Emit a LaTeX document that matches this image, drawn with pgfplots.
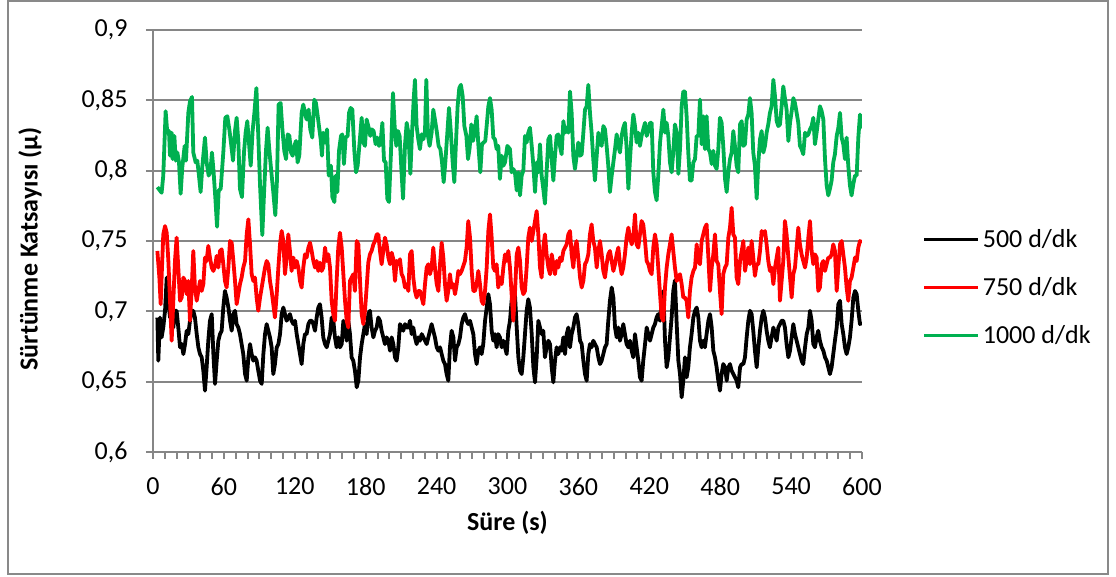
\documentclass[border=0pt]{standalone}
\usepackage{fontspec}
\setmainfont{Carlito}
\usepackage{pgfplots}
\pgfplotsset{compat=1.18}
\usepackage{pgfplotstable}
\definecolor{exgreen}{RGB}{0,176,80}
\definecolor{axgray}{RGB}{134,134,134}
\definecolor{framegray}{RGB}{137,137,137}

\pgfplotstableread{
t v
3.7 0.6956
4.5 0.6649
5.9 0.6956
7.3 0.6815
8.7 0.6885
10.2 0.7004
11.6 0.7240
13.0 0.7075
14.4 0.6956
15.8 0.7004
17.2 0.6885
18.6 0.7004
20.0 0.7004
21.4 0.6885
22.9 0.6744
24.3 0.6767
25.7 0.6696
27.1 0.6767
28.5 0.6862
29.9 0.6838
31.3 0.6933
32.7 0.7004
34.1 0.7004
35.5 0.6956
37.0 0.6838
38.4 0.6744
39.8 0.6696
41.2 0.6673
42.6 0.6578
44.0 0.6436
45.4 0.6602
46.8 0.6791
48.2 0.6933
49.7 0.6980
51.1 0.6696
52.5 0.6484
53.9 0.6649
55.3 0.6791
56.7 0.6838
58.1 0.6862
59.5 0.7027
60.9 0.7145
62.3 0.7098
63.8 0.7027
65.2 0.6933
66.6 0.6862
68.0 0.6980
69.4 0.7004
70.8 0.6909
72.2 0.6885
73.6 0.6838
75.0 0.6767
76.4 0.6696
77.9 0.6554
79.3 0.6507
80.7 0.6673
82.1 0.6767
83.5 0.6696
84.9 0.6649
86.3 0.6673
87.7 0.6649
89.1 0.6578
90.6 0.6507
92.0 0.6484
93.4 0.6696
94.8 0.6838
96.2 0.6909
97.6 0.6862
99.0 0.6815
100.4 0.6744
101.8 0.6554
103.2 0.6625
104.7 0.6744
106.1 0.6767
107.5 0.6838
108.9 0.6980
110.3 0.7027
111.7 0.6980
113.1 0.6933
114.5 0.6956
115.9 0.6980
117.3 0.6933
118.8 0.6909
120.2 0.6933
121.6 0.6838
123.0 0.6767
124.4 0.6696
125.8 0.6625
127.2 0.6767
128.6 0.6838
130.0 0.6838
131.5 0.6909
132.9 0.6933
134.3 0.6933
135.7 0.6909
137.1 0.6862
138.5 0.6956
139.9 0.7027
141.3 0.7051
142.7 0.6956
144.1 0.6815
145.6 0.6767
147.0 0.6744
148.4 0.6791
149.8 0.6838
151.2 0.6956
152.6 0.6933
154.0 0.6815
155.4 0.6744
156.8 0.6815
158.2 0.6744
159.7 0.6767
161.1 0.6933
162.5 0.6885
163.9 0.6791
165.3 0.6933
166.7 0.6838
168.1 0.6673
169.5 0.6649
170.9 0.6578
172.4 0.6460
173.8 0.6507
175.2 0.6673
176.6 0.6767
178.0 0.6838
179.4 0.6909
180.8 0.6838
182.2 0.6980
183.6 0.7004
185.0 0.6885
186.5 0.6815
187.9 0.6862
189.3 0.6885
190.7 0.6956
192.1 0.6933
193.5 0.6862
194.9 0.6815
196.3 0.6767
197.7 0.6815
199.2 0.6791
200.6 0.6720
202.0 0.6815
203.4 0.6767
204.8 0.6673
206.2 0.6649
207.6 0.6744
209.0 0.6909
210.4 0.6885
211.8 0.6862
213.3 0.6909
214.7 0.6885
216.1 0.6885
217.5 0.6933
218.9 0.6838
220.3 0.6885
221.7 0.6815
223.1 0.6767
224.5 0.6815
225.9 0.6791
227.4 0.6838
228.8 0.6815
230.2 0.6791
231.6 0.6767
233.0 0.6815
234.4 0.6862
235.8 0.6909
237.2 0.6862
238.6 0.6815
240.1 0.6744
241.5 0.6720
242.9 0.6744
244.3 0.6696
245.7 0.6649
247.1 0.6625
248.5 0.6554
249.9 0.6507
251.3 0.6744
252.7 0.6862
254.2 0.6815
255.6 0.6649
257.0 0.6744
258.4 0.6767
259.8 0.6815
261.2 0.6909
262.6 0.6956
264.0 0.6980
265.4 0.6933
266.8 0.6909
268.3 0.6933
269.7 0.6885
271.1 0.6838
272.5 0.6696
273.9 0.6625
275.3 0.6720
276.7 0.6744
278.1 0.6696
279.5 0.6767
281.0 0.6933
282.4 0.7027
283.8 0.7122
285.2 0.7051
286.6 0.6862
288.0 0.6791
289.4 0.6838
290.8 0.6744
292.2 0.6838
293.6 0.6815
295.1 0.6744
296.5 0.6791
297.9 0.6744
299.3 0.6696
300.7 0.6862
302.1 0.6933
303.5 0.7075
304.9 0.7169
306.3 0.7122
307.8 0.6885
309.2 0.6673
310.6 0.6578
312.0 0.6554
313.4 0.6673
314.8 0.6838
316.2 0.7004
317.6 0.7086
319.0 0.7027
320.5 0.6838
321.9 0.6602
323.3 0.6495
324.7 0.6673
326.1 0.6933
327.5 0.6885
328.9 0.6838
330.3 0.6862
331.7 0.6673
333.1 0.6744
334.6 0.6791
336.0 0.6767
337.4 0.6602
338.8 0.6495
340.2 0.6649
341.6 0.6744
343.0 0.6696
344.4 0.6744
345.8 0.6720
347.3 0.6815
348.7 0.6696
350.1 0.6838
351.5 0.6885
352.9 0.6744
354.3 0.6838
355.7 0.6885
357.1 0.6956
358.5 0.6980
359.9 0.6909
361.4 0.6791
362.8 0.6767
364.2 0.6649
365.6 0.6554
367.0 0.6507
368.4 0.6696
369.8 0.6767
371.2 0.6744
372.6 0.6791
374.0 0.6767
375.5 0.6744
376.9 0.6673
378.3 0.6625
379.7 0.6649
381.1 0.6696
382.5 0.6744
383.9 0.6767
385.3 0.6933
386.7 0.7075
388.2 0.7169
389.6 0.7098
391.0 0.6885
392.4 0.6815
393.8 0.6885
395.2 0.6791
396.6 0.6838
398.0 0.6909
399.4 0.6838
400.8 0.6767
402.3 0.6744
403.7 0.6791
405.1 0.6720
406.5 0.6673
407.9 0.6838
409.3 0.6744
410.7 0.6649
412.1 0.6531
413.5 0.6507
414.9 0.6649
416.4 0.6767
417.8 0.6885
419.2 0.6838
420.6 0.6791
422.0 0.6838
423.4 0.6885
424.8 0.6909
426.2 0.6956
427.6 0.6980
429.1 0.6933
430.5 0.7075
431.9 0.7145
433.3 0.6791
434.7 0.6602
436.1 0.6673
437.5 0.6815
438.9 0.6956
440.3 0.7145
441.7 0.7220
443.2 0.6909
444.6 0.6649
446.0 0.6554
447.4 0.6389
448.8 0.6507
450.2 0.6673
451.6 0.6531
453.0 0.6602
454.4 0.6744
455.8 0.6838
457.3 0.6956
458.7 0.7004
460.1 0.7027
461.5 0.6956
462.9 0.6791
464.3 0.6744
465.7 0.6791
467.1 0.6744
468.5 0.6838
470.0 0.6933
471.4 0.6980
472.8 0.6885
474.2 0.6720
475.6 0.6673
477.0 0.6602
478.4 0.6507
479.8 0.6436
481.2 0.6554
482.6 0.6625
484.1 0.6602
485.5 0.6507
486.9 0.6602
488.3 0.6625
489.7 0.6578
491.1 0.6554
492.5 0.6531
493.9 0.6507
495.3 0.6460
496.8 0.6602
498.2 0.6625
499.6 0.6625
501.0 0.6673
502.4 0.6815
503.8 0.6933
505.2 0.7004
506.6 0.6980
508.0 0.6862
509.4 0.6720
510.9 0.6602
512.3 0.6744
513.7 0.6862
515.1 0.6956
516.5 0.7004
517.9 0.6956
519.3 0.6862
520.7 0.6791
522.1 0.6744
523.5 0.6815
525.0 0.6885
526.4 0.6838
527.8 0.6791
529.2 0.6885
530.6 0.6909
532.0 0.6933
533.4 0.6933
534.8 0.6885
536.2 0.6767
537.7 0.6673
539.1 0.6720
540.5 0.6815
541.9 0.6909
543.3 0.6838
544.7 0.6791
546.1 0.6744
547.5 0.6696
548.9 0.6649
550.3 0.6625
551.8 0.6744
553.2 0.6838
554.6 0.6885
556.0 0.7004
557.4 0.6933
558.8 0.6767
560.2 0.6744
561.6 0.6815
563.0 0.6862
564.4 0.6791
565.9 0.6744
567.3 0.6720
568.7 0.6673
570.1 0.6649
571.5 0.6602
572.9 0.6554
574.3 0.6602
575.7 0.6696
577.1 0.6791
578.6 0.6885
580.0 0.7051
581.4 0.7075
582.8 0.6909
584.2 0.6838
585.6 0.6744
587.0 0.6696
588.4 0.6744
589.8 0.6815
591.2 0.6933
592.7 0.7098
594.1 0.7145
595.5 0.7122
596.9 0.7004
598.3 0.6909
600.0 0.6921
}\blackdata

\pgfplotstableread{
t v
3.7 0.7429
5.4 0.7240
6.5 0.7051
7.6 0.7311
8.7 0.7547
10.2 0.7606
11.6 0.7559
13.0 0.7358
14.4 0.7075
15.8 0.6791
17.2 0.7075
18.6 0.7358
20.0 0.7524
21.4 0.7311
22.9 0.7075
24.3 0.7098
25.7 0.7240
27.1 0.7216
28.5 0.7122
29.9 0.7216
31.3 0.6933
32.7 0.7145
34.1 0.7429
35.5 0.7169
37.0 0.7075
38.4 0.7145
39.8 0.7216
41.2 0.7145
42.6 0.7193
44.0 0.7382
45.4 0.7358
46.8 0.7465
48.2 0.7382
49.7 0.7311
51.1 0.7287
52.5 0.7323
53.9 0.7394
55.3 0.7311
56.7 0.7429
58.1 0.7441
59.5 0.7335
60.9 0.7216
62.3 0.7169
63.8 0.7311
65.2 0.7500
66.6 0.7488
68.0 0.7358
69.4 0.7216
70.8 0.7051
72.2 0.7122
73.6 0.7193
75.0 0.7240
76.4 0.7311
77.9 0.7358
79.3 0.7547
80.7 0.7654
82.1 0.7476
83.5 0.7264
84.9 0.7216
86.3 0.7240
87.7 0.7098
89.1 0.7004
90.6 0.7098
92.0 0.7169
93.4 0.7240
94.8 0.7311
96.2 0.7358
97.6 0.7335
99.0 0.7216
100.4 0.7145
101.8 0.7051
103.2 0.6956
104.7 0.7122
106.1 0.7311
107.5 0.7476
108.9 0.7571
110.3 0.7500
111.7 0.7264
113.1 0.7382
114.5 0.7547
115.9 0.7429
117.3 0.7287
118.8 0.7382
120.2 0.7311
121.6 0.7358
123.0 0.7311
124.4 0.7216
125.8 0.7169
127.2 0.7311
128.6 0.7405
130.0 0.7382
131.5 0.7453
132.9 0.7488
134.3 0.7429
135.7 0.7358
137.1 0.7311
138.5 0.7358
139.9 0.7287
141.3 0.7346
142.7 0.7287
144.1 0.7311
145.6 0.7453
147.0 0.7358
148.4 0.7405
149.8 0.7311
151.2 0.7075
152.6 0.6980
154.0 0.6933
155.4 0.7216
156.8 0.7453
158.2 0.7559
159.7 0.7453
161.1 0.7264
162.5 0.7075
163.9 0.6933
165.3 0.6885
166.7 0.7216
168.1 0.7240
169.5 0.7264
170.9 0.7145
172.4 0.7500
173.8 0.7476
175.2 0.7216
176.6 0.6980
178.0 0.6909
179.4 0.7004
180.8 0.7169
182.2 0.7346
183.6 0.7405
185.0 0.7429
186.5 0.7476
187.9 0.7500
189.3 0.7547
190.7 0.7547
192.1 0.7429
193.5 0.7335
194.9 0.7429
196.3 0.7524
197.7 0.7476
199.2 0.7382
200.6 0.7335
202.0 0.7417
203.4 0.7370
204.8 0.7216
206.2 0.7358
207.6 0.7335
209.0 0.7370
210.4 0.7264
211.8 0.7240
213.3 0.7169
214.7 0.7193
216.1 0.7145
217.5 0.7405
218.9 0.7429
220.3 0.7240
221.7 0.7145
223.1 0.7098
224.5 0.7145
225.9 0.7145
227.4 0.7098
228.8 0.7051
230.2 0.7193
231.6 0.7311
233.0 0.7335
234.4 0.7264
235.8 0.7311
237.2 0.7453
238.6 0.7311
240.1 0.7193
241.5 0.7145
242.9 0.7335
244.3 0.7488
245.7 0.7382
247.1 0.7193
248.5 0.7075
249.9 0.7145
251.3 0.7264
252.7 0.7169
254.2 0.7193
255.6 0.7122
257.0 0.7193
258.4 0.7287
259.8 0.7264
261.2 0.7287
262.6 0.7323
264.0 0.7358
265.4 0.7453
266.8 0.7642
268.3 0.7524
269.7 0.7287
271.1 0.7145
272.5 0.7145
273.9 0.7193
275.3 0.7287
276.7 0.7193
278.1 0.7075
279.5 0.7051
281.0 0.7145
282.4 0.7311
283.8 0.7571
285.2 0.7689
286.6 0.7524
288.0 0.7311
289.4 0.7287
290.8 0.7335
292.2 0.7169
293.6 0.7240
295.1 0.7193
296.5 0.7311
297.9 0.7405
299.3 0.7358
300.7 0.7429
302.1 0.7311
303.5 0.7122
304.9 0.6933
306.3 0.7122
307.8 0.7405
309.2 0.7453
310.6 0.7358
312.0 0.7169
313.4 0.7122
314.8 0.7145
316.2 0.7311
317.6 0.7524
319.0 0.7595
320.5 0.7500
321.9 0.7571
323.3 0.7642
324.7 0.7713
326.1 0.7547
327.5 0.7311
328.9 0.7240
330.3 0.7453
331.7 0.7547
333.1 0.7405
334.6 0.7311
336.0 0.7264
337.4 0.7405
338.8 0.7335
340.2 0.7264
341.6 0.7358
343.0 0.7311
344.4 0.7382
345.8 0.7358
347.3 0.7429
348.7 0.7453
350.1 0.7476
351.5 0.7547
352.9 0.7571
354.3 0.7405
355.7 0.7311
357.1 0.7453
358.5 0.7500
359.9 0.7382
361.4 0.7240
362.8 0.7169
364.2 0.7216
365.6 0.7335
367.0 0.7358
368.4 0.7405
369.8 0.7547
371.2 0.7618
372.6 0.7500
374.0 0.7453
375.5 0.7311
376.9 0.7429
378.3 0.7500
379.7 0.7405
381.1 0.7287
382.5 0.7240
383.9 0.7335
385.3 0.7405
386.7 0.7429
388.2 0.7358
389.6 0.7287
391.0 0.7335
392.4 0.7405
393.8 0.7453
395.2 0.7335
396.6 0.7264
398.0 0.7311
399.4 0.7405
400.8 0.7524
402.3 0.7595
403.7 0.7524
405.1 0.7476
406.5 0.7524
407.9 0.7689
409.3 0.7476
410.7 0.7453
412.1 0.7547
413.5 0.7642
414.9 0.7618
416.4 0.7500
417.8 0.7358
419.2 0.7335
420.6 0.7287
422.0 0.7264
423.4 0.7453
424.8 0.7547
426.2 0.7476
427.6 0.7311
429.1 0.7122
430.5 0.6956
431.9 0.6933
433.3 0.7169
434.7 0.7311
436.1 0.7405
437.5 0.7476
438.9 0.7547
440.3 0.7429
441.7 0.7311
443.2 0.7216
444.6 0.7240
446.0 0.7264
447.4 0.7193
448.8 0.7098
450.2 0.7098
451.6 0.7075
453.0 0.6956
454.4 0.7145
455.8 0.7240
457.3 0.7287
458.7 0.7311
460.1 0.7476
461.5 0.7358
462.9 0.7335
464.3 0.7500
465.7 0.7547
467.1 0.7595
468.5 0.7618
470.0 0.7382
471.4 0.7145
472.8 0.7311
474.2 0.7405
475.6 0.7547
477.0 0.7358
478.4 0.7335
479.8 0.7145
481.2 0.6980
482.6 0.7264
484.1 0.7311
485.5 0.7335
486.9 0.7524
488.3 0.7595
489.7 0.7736
491.1 0.7547
492.5 0.7524
493.9 0.7240
495.3 0.7193
496.8 0.7358
498.2 0.7429
499.6 0.7500
501.0 0.7287
502.4 0.7358
503.8 0.7453
505.2 0.7335
506.6 0.7500
508.0 0.7382
509.4 0.7252
510.9 0.7335
512.3 0.7335
513.7 0.7429
515.1 0.7571
516.5 0.7547
517.9 0.7571
519.3 0.7476
520.7 0.7358
522.1 0.7287
523.5 0.7311
525.0 0.7193
526.4 0.7311
527.8 0.7382
529.2 0.7453
530.6 0.7075
532.0 0.7216
533.4 0.7358
534.8 0.7642
536.2 0.7547
537.7 0.7382
539.1 0.7240
540.5 0.7098
541.9 0.7264
543.3 0.7311
544.7 0.7453
546.1 0.7595
547.5 0.7476
548.9 0.7405
550.3 0.7358
551.8 0.7311
553.2 0.7382
554.6 0.7524
556.0 0.7642
557.4 0.7429
558.8 0.7335
560.2 0.7405
561.6 0.7382
563.0 0.7145
564.4 0.7169
565.9 0.7335
567.3 0.7358
568.7 0.7287
570.1 0.7335
571.5 0.7382
572.9 0.7382
574.3 0.7405
575.7 0.7476
577.1 0.7429
578.6 0.7145
580.0 0.7311
581.4 0.7476
582.8 0.7500
584.2 0.7405
585.6 0.7311
587.0 0.7169
588.4 0.7075
589.8 0.7216
591.2 0.7240
592.7 0.7311
594.1 0.7382
595.5 0.7358
596.9 0.7453
598.3 0.7500
600.0 0.7488
}\reddata

\pgfplotstableread{
t v
3.7 0.7883
7.3 0.7843
8.7 0.7965
10.7 0.8423
12.1 0.8270
13.5 0.8282
14.4 0.8106
15.8 0.8270
16.6 0.8082
18.1 0.8247
19.2 0.8071
20.6 0.8129
22.0 0.8059
23.4 0.7836
24.8 0.8024
26.8 0.8176
27.9 0.8071
29.9 0.8411
31.3 0.8493
33.0 0.8524
34.1 0.8129
36.1 0.8059
37.5 0.8071
38.9 0.7965
40.3 0.7848
41.8 0.8035
44.0 0.8235
45.4 0.8059
47.1 0.7965
48.5 0.7988
49.9 0.8129
51.3 0.7988
52.8 0.7801
54.2 0.7601
55.6 0.7859
57.3 0.7871
59.5 0.8129
61.2 0.8376
62.9 0.8387
64.6 0.8294
66.3 0.8176
67.7 0.8071
69.4 0.8282
70.8 0.8376
72.2 0.8211
73.6 0.7871
75.3 0.7812
77.0 0.8129
78.4 0.8270
79.8 0.8352
81.2 0.8200
82.7 0.8035
84.3 0.8282
85.8 0.8411
87.5 0.8587
88.9 0.8294
90.6 0.7895
92.5 0.7542
93.9 0.7824
95.6 0.8141
97.0 0.8305
98.4 0.8153
99.9 0.8012
101.8 0.7848
103.5 0.7683
104.9 0.7930
106.3 0.8470
108.0 0.8481
109.5 0.8294
111.1 0.8141
112.6 0.8082
114.0 0.8258
115.4 0.8247
116.8 0.8129
118.2 0.8106
119.6 0.8176
121.0 0.8211
122.4 0.8059
123.8 0.8106
125.8 0.8411
127.2 0.8470
128.6 0.8411
130.0 0.8364
131.7 0.8434
133.1 0.8294
134.8 0.8235
136.5 0.8505
137.9 0.8481
139.4 0.8387
140.8 0.8294
141.9 0.8223
143.0 0.8106
144.1 0.8270
145.8 0.8200
147.3 0.8294
148.7 0.7965
150.6 0.8035
151.8 0.7812
153.5 0.7777
154.6 0.7965
156.0 0.7848
157.4 0.8141
159.1 0.8247
160.2 0.8258
161.6 0.8047
163.0 0.8235
164.7 0.8247
165.9 0.8411
167.3 0.8446
168.7 0.8434
170.4 0.8141
171.8 0.7988
173.2 0.8035
174.6 0.8176
176.6 0.8376
178.0 0.8200
179.4 0.8176
180.8 0.8364
182.2 0.8317
183.9 0.8247
185.0 0.8294
186.7 0.8282
188.4 0.8188
189.8 0.8235
191.3 0.8176
192.7 0.8211
194.1 0.8340
195.5 0.8071
196.9 0.8059
198.3 0.7801
199.7 0.7777
201.4 0.8129
203.1 0.8552
204.5 0.8317
205.9 0.8176
207.3 0.8282
208.7 0.8247
210.2 0.8012
211.6 0.7801
213.3 0.8188
214.7 0.8340
216.1 0.8270
217.8 0.7977
219.2 0.8270
220.6 0.8505
221.7 0.8646
223.1 0.8317
224.5 0.8223
225.9 0.8153
227.4 0.8258
228.8 0.8223
230.2 0.8282
231.3 0.8646
232.7 0.8247
234.1 0.8176
235.8 0.8270
237.2 0.8434
238.6 0.8364
240.3 0.8270
241.7 0.8176
243.2 0.8153
244.6 0.8059
246.0 0.7918
247.4 0.8059
249.1 0.8270
250.5 0.8446
251.9 0.8294
253.6 0.8059
255.0 0.7918
256.4 0.8200
257.8 0.8458
259.2 0.8587
260.6 0.8610
262.1 0.8528
263.5 0.8317
265.2 0.8247
266.6 0.8082
268.0 0.8164
269.4 0.8329
270.8 0.8211
272.2 0.8270
273.9 0.8387
275.3 0.8188
277.0 0.7988
278.4 0.8188
279.8 0.8200
281.2 0.8211
282.6 0.8340
283.8 0.8458
285.2 0.8516
286.6 0.8434
288.0 0.8235
289.4 0.8223
290.8 0.8153
292.2 0.8176
293.6 0.7941
295.1 0.8106
296.5 0.8035
297.9 0.8059
299.9 0.8176
302.1 0.8153
303.5 0.7988
304.9 0.8012
306.3 0.7988
307.8 0.7859
309.2 0.7988
310.6 0.7824
312.0 0.7965
313.4 0.8000
314.8 0.8247
316.2 0.8200
317.6 0.8270
319.0 0.8305
320.5 0.8176
321.9 0.8035
323.3 0.7848
324.7 0.8059
326.1 0.7988
327.5 0.8188
328.9 0.7965
330.3 0.7871
331.7 0.7765
333.1 0.7988
334.6 0.8223
336.0 0.8247
337.4 0.8082
338.8 0.7930
340.2 0.8106
341.6 0.8247
343.0 0.8258
344.4 0.8176
345.8 0.8117
347.3 0.8352
348.7 0.8270
350.1 0.8305
351.5 0.8270
352.9 0.8563
354.3 0.8411
355.7 0.8106
357.1 0.8012
358.5 0.8106
359.9 0.8200
361.4 0.8106
362.8 0.8117
364.2 0.8270
365.6 0.8434
367.0 0.8458
368.4 0.8610
369.8 0.8411
371.2 0.8270
372.6 0.8082
374.0 0.7930
375.5 0.8106
376.9 0.8270
378.3 0.8211
379.7 0.8176
381.1 0.8317
382.5 0.8294
383.9 0.8176
385.3 0.8035
386.7 0.7848
388.2 0.7965
389.6 0.8059
391.0 0.8153
392.4 0.8258
393.8 0.8176
395.2 0.8129
396.6 0.8247
398.0 0.8305
399.4 0.8340
400.8 0.8164
402.3 0.7871
403.7 0.8082
405.1 0.8270
406.5 0.8399
407.9 0.8317
409.3 0.8200
410.7 0.8270
412.1 0.8176
413.5 0.8247
414.9 0.8294
416.4 0.8340
417.8 0.8247
419.2 0.8282
420.6 0.8340
422.0 0.8340
423.4 0.7988
424.8 0.7848
426.2 0.7789
427.6 0.7965
429.1 0.8200
430.5 0.8317
431.9 0.8434
433.3 0.8270
434.7 0.8340
436.1 0.8247
437.5 0.8059
438.9 0.7988
440.3 0.8129
441.7 0.8329
443.2 0.8270
444.6 0.7977
446.0 0.8153
447.4 0.8458
448.8 0.8563
450.2 0.8563
451.6 0.8387
453.0 0.8129
454.4 0.7930
455.8 0.7930
457.3 0.8059
458.7 0.8082
460.1 0.8247
461.5 0.8247
462.9 0.8505
464.3 0.8188
465.7 0.8387
467.1 0.8153
468.5 0.8387
470.0 0.8153
471.4 0.8129
472.8 0.8047
474.2 0.8141
475.6 0.8035
477.0 0.8012
478.4 0.8153
479.8 0.8376
481.2 0.8340
482.6 0.8176
484.1 0.7941
485.5 0.7848
486.9 0.7988
488.3 0.8082
489.7 0.8129
491.1 0.8282
492.5 0.8176
493.9 0.8035
495.3 0.7988
496.8 0.8329
498.2 0.8352
499.6 0.8176
501.0 0.8188
502.4 0.8364
503.8 0.8399
505.2 0.8516
506.6 0.8411
508.0 0.8129
509.4 0.8035
510.9 0.7801
512.3 0.8059
513.7 0.8223
515.1 0.8282
516.5 0.8129
517.9 0.8176
519.3 0.8270
520.7 0.8329
522.1 0.8411
523.5 0.8458
525.0 0.8646
526.4 0.8528
527.8 0.8352
529.2 0.8317
530.6 0.8329
532.0 0.8458
533.4 0.8599
534.8 0.8516
536.2 0.8434
537.7 0.8211
539.1 0.8340
540.5 0.8423
541.9 0.8516
543.3 0.8481
544.7 0.8411
546.1 0.8340
547.5 0.8176
548.9 0.8153
550.3 0.8117
551.8 0.8270
553.2 0.8247
554.6 0.8258
556.0 0.8294
557.4 0.8317
558.8 0.8376
560.2 0.8188
561.6 0.8270
563.0 0.8364
564.4 0.8458
565.9 0.8423
567.3 0.8364
568.7 0.8082
570.1 0.7895
571.5 0.7824
572.9 0.7871
574.3 0.7930
575.7 0.8059
577.1 0.8117
578.6 0.8247
580.0 0.8305
581.4 0.8411
582.8 0.8235
584.2 0.8188
585.6 0.8082
587.0 0.8235
588.4 0.8035
589.8 0.7895
591.2 0.7824
592.7 0.7906
594.1 0.7965
595.5 0.7965
596.9 0.8235
598.3 0.8399
600.0 0.8300
}\greendata

\begin{document}
\fontsize{13}{15.6}\selectfont
\begin{tikzpicture}
\useasboundingbox (0,0) rectangle (558pt,288.5pt);
\draw[framegray, line width=1pt] (4pt,1.5pt) rectangle (554pt,288pt);
\begin{axis}[
  at={(76.5pt,62.5pt)}, anchor=south west,
  scale only axis, width=354.5pt, height=211pt,
  xmin=0, xmax=600, ymin=0.6, ymax=0.9,
  xtick={0,60,120,180,240,300,360,420,480,540,600},
  ytick={0.6,0.65,0.7,0.75,0.8,0.85,0.9},
  minor x tick num=5,
  axis lines*=left,
  axis line style={axgray, line width=1pt},
  ymajorgrids, grid style={axgray, line width=1pt},
  tick style={axgray, line width=1pt},
  tick align=outside, major tick length=3.5pt, minor tick length=3.5pt,
  xticklabel style={yshift=-5pt, text=black},
  yticklabel style={xshift=-4.7pt, text=black},
  /pgf/number format/.cd, use comma, assume math mode=true, 1000 sep={},
  /pgfplots/.cd,
  xlabel={Süre (s)},
  ylabel={Sürtünme Katsayısı (μ)},
  xlabel style={at={(rel axis cs:0.5,-0.168)}, anchor=center, font=\bfseries},
  ylabel style={at={(rel axis cs:-0.1735,0.481)}, anchor=center, font=\bfseries},
  legend cell align=left,
  legend image code/.code={\draw[#1, line width=1.75pt] (0pt,-0.3pt) -- (27pt,-0.3pt);},
  legend style={at={(rel axis cs:1.0846,0.391)}, anchor=west, draw=none, fill=none,
    inner sep=0pt, row sep=15pt, column sep=1.5pt,
    nodes={inner sep=0pt, text height=9pt, text depth=0pt}},
  every axis plot/.append style={line width=1.9pt, line join=round},
]
\addplot[black] table[x=t, y=v] {\blackdata};
\addlegendentry{500 d/dk}
\addplot[red] table[x=t, y=v] {\reddata};
\addlegendentry{750 d/dk}
\addplot[exgreen] table[x=t, y=v] {\greendata};
\addlegendentry{1000 d/dk}
\end{axis}
\end{tikzpicture}
\end{document}
